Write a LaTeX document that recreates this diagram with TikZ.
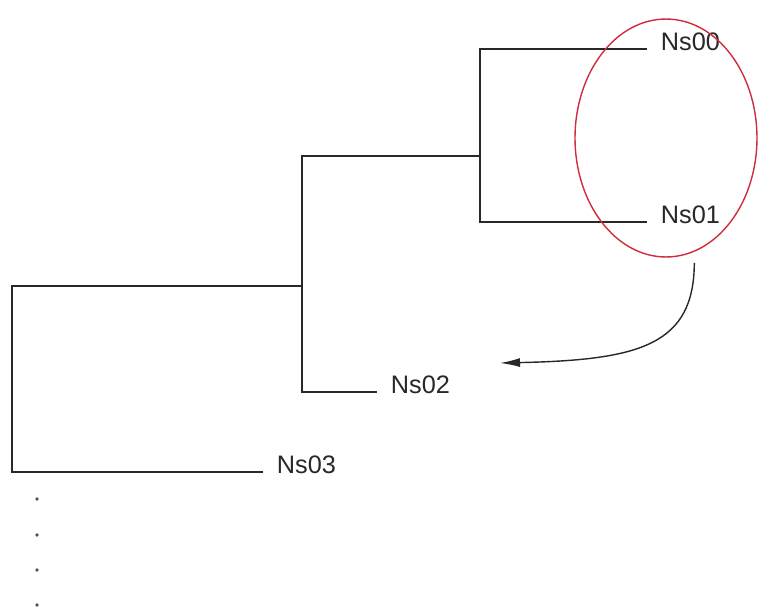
\documentclass[tikz,border=0pt]{standalone}
\usepackage{fontspec}
\setmainfont{Liberation Sans}
\usetikzlibrary{shapes.geometric, arrows.meta}
\definecolor{treeGray}{RGB}{40, 40, 40}
\definecolor{groupRed}{RGB}{205, 45, 60}

\begin{document}
\begin{tikzpicture}[x=0.02cm, y=-0.02cm,
    branch/.style={treeGray, line width=1.1pt},
    leaf/.style={anchor=west, inner xsep=0.27cm, inner ysep=0pt, text depth=0.3cm,
      font=\fontsize{14.4}{17}\selectfont, text=treeGray}]
  \useasboundingbox (0,0) rectangle (758,606);
  \node[leaf] (ns00) at (647,49) {Ns00};
  \node[leaf] (ns01) at (647,222) {Ns01};
  \node[leaf] (ns02) at (377,392) {Ns02};
  \node[leaf] (ns03) at (263,472) {Ns03};
  \coordinate (c1) at (480,156);
  \coordinate (c2) at (302,286);
  \coordinate (c3) at (12,379);
  \draw[branch] (ns00.west) -| (c1) |- (ns01.west);
  \draw[branch] (c1) -| (c2) |- (ns02.west);
  \draw[branch] (c2) -| (c3) |- (ns03.west);
  \node[draw=groupRed, line width=0.8pt, ellipse, inner sep=0pt,
    minimum width=3.64cm, minimum height=4.76cm] (grp) at (666,138) {};
  \coordinate (tip) at (500,363);
  \draw[treeGray, line width=0.8pt, -{Latex[length=0.4cm, width=0.18cm]}, shorten <=0.22cm]
    (grp.-76) .. controls (694,345) and (640,360) .. (tip);
  \foreach \y in {499,535,570,605}
    \fill[treeGray!80] (37,\y) circle (1.1pt);
\end{tikzpicture}
\end{document}
